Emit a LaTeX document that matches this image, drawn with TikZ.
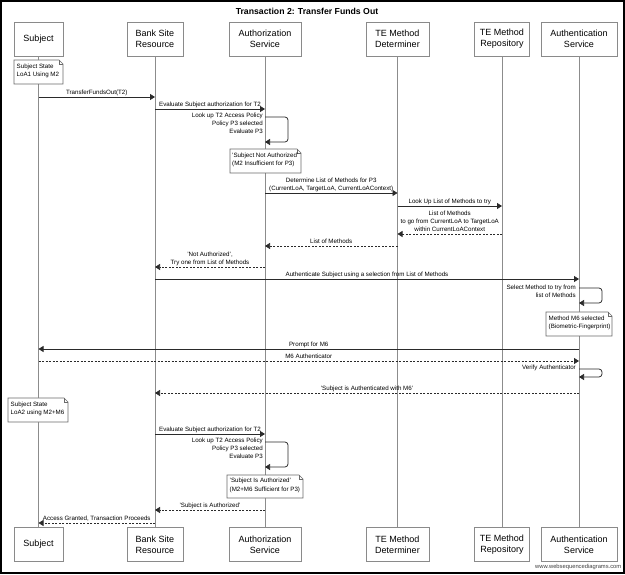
\documentclass[tikz,border=0pt]{standalone}
\usepackage{fontspec}
\setmainfont{Liberation Sans}
\usetikzlibrary{arrows.meta,calc}
\definecolor{boxgray}{HTML}{8A8A8A}
\definecolor{lifegray}{HTML}{8C8C8C}
\definecolor{msgcol}{HTML}{2A2A2A}
\definecolor{notegray}{HTML}{6A6A6A}
\begin{document}
\begin{tikzpicture}[x=1pt,y=-1pt,
  part/.style={draw=boxgray, fill=white, line width=0.8pt, font=\fontsize{9}{11}\selectfont, align=center, inner sep=0pt, minimum height=34pt},
  life/.style={draw=lifegray, line width=0.8pt},
  msg/.style={draw=msgcol, line width=0.75pt, -{Triangle[length=5pt,width=6pt]}},
  ret/.style={msg, dash pattern=on 2pt off 1.5pt},
  selfmsg/.style={msg, rounded corners=3pt},
  lbl/.style={font=\fontsize{6.2}{8}\selectfont, inner sep=0pt, align=center, text depth=1.3pt, anchor=south, yshift=1pt},
  slbl/.style={font=\fontsize{6.2}{8}\selectfont, inner sep=0pt, align=right, anchor=north east},
  notetxt/.style={font=\fontsize{6.2}{8.5}\selectfont, inner sep=0pt, align=left, draw=none, anchor=north west},
  notebody/.style={draw=notegray, fill=white, line width=0.7pt},
]
\newcommand\dognote[5]{% name, x1, y1, x2, y2
  \draw[notebody] (#2,#3) -- ($(#4,#3)+(-4,0)$) -- ($(#4,#3)+(0,4)$) -- (#4,#5) -- (#2,#5) -- cycle;
  \draw[notebody, fill=none] ($(#4,#3)+(-4,0)$) -- ($(#4,#3)+(-4,4)$) -- ($(#4,#3)+(0,4)$);
  \coordinate (#1) at ($(#2,#3)!0.5!(#4,#5)$);
}
\useasboundingbox (0,0) rectangle (625,575);
\fill[white] (0,0) rectangle (625,575);
\draw[black, line width=2.2pt] (1.2,1.2) rectangle (623.6,572.6);

\node[font=\bfseries\fontsize{8.7}{10}\selectfont] (title) at (307,11) {Transaction 2: Transfer Funds Out};

% participants top
\node[part, minimum width=49pt] (sub) at (38.5,39) {Subject};
\node[part, minimum width=56pt] (bank) at (155,39) {Bank Site\\Resource};
\node[part, minimum width=72pt] (auth) at (265,39) {Authorization\\Service};
\node[part, minimum width=63pt] (det) at (397.5,39) {TE Method\\Determiner};
\node[part, minimum width=55pt] (repo) at (502,39) {TE Method\\Repository};
\node[part, minimum width=76pt] (authn) at (579,39) {Authentication\\Service};
% participants bottom
\node[part, minimum width=49pt] (subB) at (38.5,544.5) {Subject};
\node[part, minimum width=56pt] (bankB) at (155,544.5) {Bank Site\\Resource};
\node[part, minimum width=72pt] (authB) at (265,544.5) {Authorization\\Service};
\node[part, minimum width=63pt] (detB) at (397.5,544.5) {TE Method\\Determiner};
\node[part, minimum width=55pt] (repoB) at (502,544.5) {TE Method\\Repository};
\node[part, minimum width=76pt] (authnB) at (579,544.5) {Authentication\\Service};

% lifelines
\draw[life] (sub) -- (subB);
\draw[life] (bank) -- (bankB);
\draw[life] (auth) -- (authB);
\draw[life] (det) -- (detB);
\draw[life] (repo) -- (repoB);
\draw[life] (authn) -- (authnB);

% note 1
\dognote{n1}{14}{60}{63}{84}
\node[notetxt] (n1t) at (16.5,63.5) {Subject State\\LoA1 Using M2};

% messages
\draw[msg] (sub |- 0,97) -- node[lbl] (m1) {TransferFundsOut(T2)} (bank |- 0,97);
\draw[msg] (bank |- 0,109) -- node[lbl] (m2) {Evaluate Subject authorization for T2} (auth |- 0,109);
\draw[selfmsg] (auth |- 0,117) -- (288,117) -- (288,142) -- (auth |- 0,142);
\node[slbl] (s1) at (263,113.3) {Look up T2 Access Policy\\Policy P3 selected\\Evaluate P3};

\dognote{n2}{230}{149}{301}{173}
\node[notetxt] (n2t) at (232,152.5) {'Subject Not Authorized'\\(M2 Insufficient for P3)};

\draw[msg] (auth |- 0,193) -- node[lbl] (m3) {Determine List of Methods for P3\\(CurrentLoA, TargetLoA, CurrentLoAContext)} (det |- 0,193);
\draw[msg] (det |- 0,206) -- node[lbl] (m4) {Look Up List of Methods to try} (repo |- 0,206);
\draw[ret] (repo |- 0,234) -- node[lbl] (m5) {List of Methods\\to go from CurrentLoA to TargetLoA\\within CurrentLoAContext} (det |- 0,234);
\draw[ret] (det |- 0,246) -- node[lbl] (m6) {List of Methods} (auth |- 0,246);
\draw[ret] (auth |- 0,267) -- node[lbl] (m7) {'Not Authorized',\\Try one from List of Methods} (bank |- 0,267);
\draw[msg] (bank |- 0,279) -- node[lbl] (m8) {Authenticate Subject using a selection from List of Methods} (authn |- 0,279);

\draw[selfmsg] (authn |- 0,288) -- (602,288) -- (602,303) -- (authn |- 0,303);
\node[slbl] (s2) at (576,285) {Select Method to try from\\list of Methods};

\dognote{n3}{546}{312}{612}{336}
\node[notetxt] (n3t) at (548.5,315.5) {Method M6 selected\\(Biometric-Fingerprint)};

\draw[msg] (authn |- 0,349) -- node[lbl] (m9) {Prompt for M6} (sub |- 0,349);
\draw[ret] (sub |- 0,361) -- node[lbl] (m10) {M6 Authenticator} (authn |- 0,361);
\draw[selfmsg] (authn |- 0,369) -- (602,369) -- (602,377) -- (authn |- 0,377);
\node[slbl] (s3) at (576,365) {Verify Authenticator};
\draw[ret] (authn |- 0,393) -- node[lbl] (m11) {'Subject is Authenticated with M6'} (bank |- 0,393);

\dognote{n4}{8}{398}{68}{422}
\node[notetxt] (n4t) at (10.5,401.5) {Subject State\\LoA2 using M2+M6};

\draw[msg] (bank |- 0,434) -- node[lbl] (m12) {Evaluate Subject authorization for T2} (auth |- 0,434);
\draw[selfmsg] (auth |- 0,442) -- (288,442) -- (288,467) -- (auth |- 0,467);
\node[slbl] (s4) at (263,438.3) {Look up T2 Access Policy\\Policy P3 selected\\Evaluate P3};

\dognote{n5}{227}{475}{303}{498}
\node[notetxt] (n5t) at (229.5,478) {'Subject Is Authorized'\\(M2+M6 Sufficient for P3)};

\draw[ret] (auth |- 0,510) -- node[lbl] (m13) {'Subject is Authorized'} (bank |- 0,510);
\draw[ret] (bank |- 0,523) -- node[lbl] (m14) {Access Granted, Transaction Proceeds} (sub |- 0,523);

\node[font=\fontsize{5.8}{7}\selectfont, text=black!75, anchor=east, inner sep=0pt] (wm) at (621.5,566.5) {www.websequencediagrams.com};
\end{tikzpicture}
\end{document}
